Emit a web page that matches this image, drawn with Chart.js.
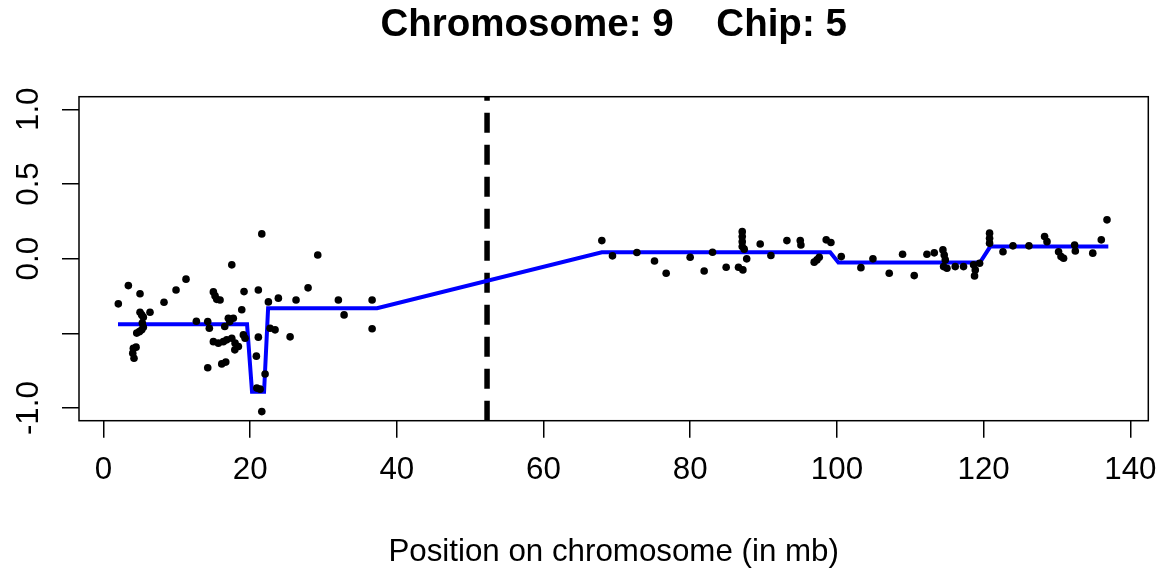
<!DOCTYPE html>
<html>
<head>
<meta charset="utf-8">
<script src="https://cdn.jsdelivr.net/npm/chart.js@4.4.1/dist/chart.umd.min.js"></script>
<style>
  html, body { margin: 0; padding: 0; background: #fff; }
</style>
</head>
<body>
<canvas id="chart" width="1157" height="574"></canvas>
<script>
// Axis ticks
const xTicks = [0, 20, 40, 60, 80, 100, 120, 140];
const yTicks = [-1, -0.5, 0, 0.5, 1];

// Probe positions (mb) and log ratios
const probePos = [
  2.03, 3.40, 4.00, 4.08, 4.17, 4.45, 4.54, 4.90, 4.99, 4.99, 5.22, 5.22, 5.30, 5.44, 5.44, 6.35,
  8.26, 9.90, 11.26, 12.67, 14.22, 14.22, 14.44, 14.99, 14.99, 15.22, 15.45, 15.67, 15.90, 16.13,
  16.35, 16.54, 16.68, 16.81, 17.03, 17.22, 17.50, 17.50, 17.71, 17.91, 17.95, 18.40, 18.86, 19.08,
  19.17, 19.31, 20.85, 20.91, 21.12, 21.12, 21.36, 21.59, 21.59, 22.04, 22.49, 22.72, 23.40, 23.85,
  25.45, 26.26, 27.90, 29.22, 32.03, 32.81, 36.63, 36.63,
  67.95, 69.40, 72.73, 75.13, 76.72, 79.99, 81.90, 83.04, 84.90, 86.58, 87.18, 87.09, 87.09, 87.09,
  87.09, 87.36, 87.70, 89.54, 91.00, 93.18, 95.00, 95.09, 96.90, 97.27, 97.59, 98.54, 99.18, 100.59,
  103.27, 104.91, 107.13, 108.95, 110.54, 112.27, 113.27, 114.45, 114.63, 114.77, 114.54, 115.00,
  116.13, 117.26, 118.63, 118.86, 118.76, 119.45, 120.81, 120.81, 120.81, 122.64, 124.00, 126.18,
  128.31, 128.64, 130.22, 130.55, 130.90, 132.40, 132.50, 134.88, 136.04, 136.82
];
const probeRatio = [
  -0.302, -0.180, -0.632, -0.599, -0.666, -0.592, -0.498, -0.488, -0.235, -0.358, -0.376, -0.476, -0.431, -0.391, -0.458, -0.358,
  -0.291, -0.209, -0.137, -0.419, -0.421, -0.730, -0.465, -0.222, -0.555, -0.249, -0.272, -0.565, -0.276, -0.704,
  -0.555, -0.454, -0.692, -0.543, -0.398, -0.421, -0.041, -0.532, -0.398, -0.610, -0.565, -0.588, -0.342, -0.510,
  -0.220, -0.532, -0.652, -0.866, -0.209, -0.525, -0.873, 0.166, -1.023, -0.772, -0.289, -0.465, -0.476, -0.264,
  -0.523, -0.276, -0.195, 0.025, -0.276, -0.376, -0.276, -0.469,
  0.121, 0.019, 0.041, -0.015, -0.097, 0.010, -0.082, 0.043, -0.057, -0.057, -0.075, 0.181, 0.148, 0.114,
  0.081, 0.064, -0.001, 0.098, 0.021, 0.121, 0.121, 0.092, -0.023, -0.008, 0.010, 0.126, 0.108, 0.014,
  -0.060, -0.001, -0.097, 0.030, -0.113, 0.030, 0.039, 0.059, 0.025, -0.008, -0.053, -0.064,
  -0.053, -0.053, -0.041, -0.075, -0.115, -0.030, 0.171, 0.137, 0.104, 0.047, 0.086, 0.086,
  0.148, 0.114, 0.047, 0.014, 0.003, 0.092, 0.052, 0.037, 0.126, 0.260
];

// Smoothed segment line
const segPos = [1.99, 19.58, 20.26, 21.90, 22.45, 37.30, 67.95, 99.08, 100.20, 119.50, 120.90, 137.00];
const segRatio = [-0.439, -0.439, -0.891, -0.891, -0.331, -0.331, 0.043, 0.043, -0.026, -0.026, 0.081, 0.081];

// Centromere position
const centromere = 52.3;

const xMin = -3.33, xMax = 142.45;
const yMin = -1.084, yMax = 1.084;

const font = "'Liberation Sans', Arial, sans-serif";

const probes = probePos.map((x, i) => ({ x: x, y: probeRatio[i] }));
const segments = segPos.map((x, i) => ({ x: x, y: segRatio[i] }));

// box round the plot region
const boxPlugin = {
  id: "box",
  afterDraw(chart) {
    const { ctx, chartArea: a } = chart;
    ctx.save();
    ctx.strokeStyle = "#000";
    ctx.lineWidth = 1.5;
    ctx.strokeRect(a.left, a.top, a.right - a.left, a.bottom - a.top);
    ctx.restore();
  }
};

new Chart(document.getElementById("chart"), {
  type: "scatter",
  data: {
    datasets: [
      {
        data: probes,
        backgroundColor: "#000",
        borderWidth: 0,
        pointRadius: 3.8,
        pointHoverRadius: 3.8
      },
      {
        type: "line",
        data: segments,
        borderColor: "#0000ff",
        borderWidth: 4,
        pointRadius: 0,
        tension: 0,
        fill: false
      },
      {
        type: "line",
        data: [{ x: centromere, y: yMin }, { x: centromere, y: yMax }],
        borderColor: "#000",
        borderWidth: 5.5,
        borderDash: [20, 12],
        pointRadius: 0,
        fill: false
      }
    ]
  },
  options: {
    responsive: false,
    animation: false,
    layout: { padding: { left: 0, right: 8.7, top: 0, bottom: 0 } },
    plugins: {
      legend: { display: false },
      tooltip: { enabled: false },
      title: {
        display: true,
        fullSize: false,
        text: "Chromosome: 9    Chip: 5",
        color: "#000",
        font: { family: font, size: 38.5, weight: "bold" },
        padding: { top: 2, bottom: 48.5 }
      }
    },
    scales: {
      x: {
        type: "linear",
        min: xMin,
        max: xMax,
        afterBuildTicks: (s) => { s.ticks = xTicks.map(v => ({ value: v })); },
        afterFit: (s) => { s.height = 153.3; s.paddingLeft = 0; s.paddingRight = 0; },
        border: { display: false },
        grid: { drawOnChartArea: false, drawTicks: true, tickLength: 17, color: "#000", lineWidth: 1.5 },
        ticks: { color: "#000", font: { family: font, size: 31.3 }, padding: 13.5, maxRotation: 0 },
        title: {
          display: true,
          text: "Position on chromosome (in mb)",
          color: "#000",
          font: { family: font, size: 31.3 },
          padding: { top: 0, bottom: 3.2 }
        }
      },
      y: {
        type: "linear",
        min: yMin,
        max: yMax,
        afterBuildTicks: (s) => { s.ticks = yTicks.map(v => ({ value: v })); },
        afterFit: (s) => { s.width = 79; s.paddingTop = 0; s.paddingBottom = 0; },
        border: { display: false },
        grid: { drawOnChartArea: false, drawTicks: true, tickLength: 17, color: "#000", lineWidth: 1.5 },
        ticks: {
          color: "#000",
          font: { family: font, size: 31.3 },
          padding: 5.5,
          minRotation: 90,
          maxRotation: 90,
          crossAlign: "center",
          // R drops the -0.5 label because it would overlap
          callback: (v) => (v === -0.5 ? "" : v.toFixed(1))
        }
      }
    }
  },
  plugins: [boxPlugin]
});
</script>
</body>
</html>
